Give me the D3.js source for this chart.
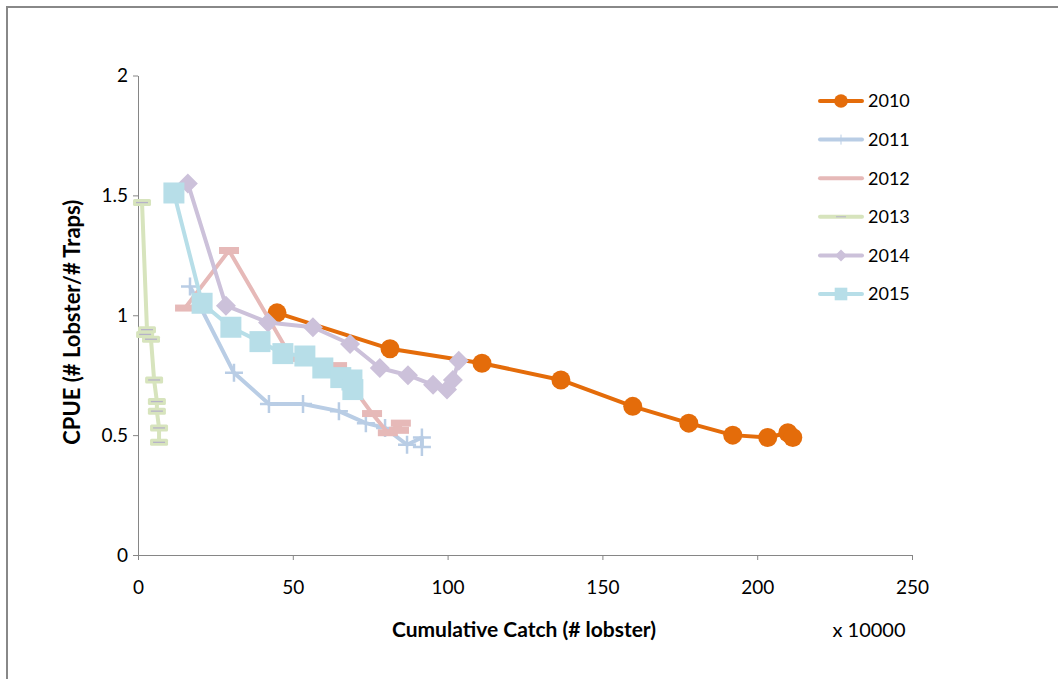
<!DOCTYPE html>
<html>
<head>
<meta charset="utf-8">
<script src="https://cdn.jsdelivr.net/npm/d3@7"></script>
<style>
  html, body { margin: 0; padding: 0; background: #fff; }
  svg { display: block; }
  text { font-family: Lato, "Open Sans", sans-serif; fill: #000; }
</style>
</head>
<body>
<svg id="chart" width="1058" height="679"></svg>
<script>
// Cumulative catch (x 10000 lobster) and CPUE by season
const years = ["2010", "2011", "2012", "2013", "2014", "2015"];

const catch2010 = [44.9, 81.4, 111.1, 136.6, 159.8, 177.9, 192.1, 203.4, 209.9, 211.5];
const cpue2010  = [1.01, 0.86, 0.80, 0.73, 0.62, 0.55, 0.50, 0.49, 0.51, 0.49];

const catch2011 = [16.8, 31.0, 42.3, 53.3, 64.9, 73.6, 79.8, 86.9, 91.7, 91.7];
const cpue2011  = [1.12, 0.76, 0.63, 0.63, 0.60, 0.55, 0.53, 0.46, 0.49, 0.45];

const catch2012 = [15.2, 29.4, 49.7, 64.3, 75.6, 80.7, 84.9, 84.3];
const cpue2012  = [1.03, 1.27, 0.82, 0.79, 0.59, 0.51, 0.55, 0.52];

const catch2013 = [1.3, 2.9, 2.3, 4.2, 5.2, 6.1, 6.1, 6.8, 6.8];
const cpue2013  = [1.47, 0.94, 0.92, 0.90, 0.73, 0.64, 0.60, 0.53, 0.47];

const catch2014 = [16.1, 28.4, 42.0, 56.5, 68.5, 78.1, 87.2, 95.3, 99.8, 101.7, 103.6];
const cpue2014  = [1.55, 1.04, 0.97, 0.95, 0.88, 0.78, 0.75, 0.71, 0.69, 0.73, 0.81];

const catch2015 = [11.6, 20.7, 30.0, 39.4, 46.8, 53.9, 59.7, 65.5, 69.1, 69.4];
const cpue2015  = [1.51, 1.05, 0.95, 0.89, 0.84, 0.83, 0.78, 0.74, 0.73, 0.69];

const xTicks = [0, 50, 100, 150, 200, 250];
const yTicks = [0, 0.5, 1, 1.5, 2];

const seriesX = [catch2010, catch2011, catch2012, catch2013, catch2014, catch2015];
const seriesY = [cpue2010, cpue2011, cpue2012, cpue2013, cpue2014, cpue2015];

const colors  = ["#E46C0A", "#B9CDE5", "#E6B9B8", "#D7E4BD", "#CCC1DA", "#B7DEE8"];
const markers = ["circle", "plus", "dash", "dash2", "diamond", "square"];

const series = years.map((name, i) => ({
  name,
  color: colors[i],
  marker: markers[i],
  points: seriesX[i].map((x, j) => ({ x, y: seriesY[i][j] }))
}));

const svg = d3.select("#chart");
const fontFamily = "Lato, 'Open Sans', sans-serif";

// outer frame
svg.append("path")
  .attr("d", "M7,679 L7,7 L1058,7")
  .attr("fill", "none")
  .attr("stroke", "#888")
  .attr("stroke-width", 2);

const x = d3.scaleLinear().domain([0, 250]).range([138, 912]);
const y = d3.scaleLinear().domain([0, 2]).range([555, 75.5]);

const axisColor = "#868686";

// y axis
const gy = svg.append("g")
  .attr("transform", `translate(${x(0)},0)`)
  .call(d3.axisLeft(y).tickValues(yTicks).tickSize(5).tickSizeOuter(0).tickPadding(5)
    .tickFormat(d3.format("~g")));
gy.select(".domain").attr("stroke", axisColor);
gy.selectAll(".tick line").attr("stroke", axisColor);
gy.selectAll(".tick text").attr("font-size", 19).attr("fill", "#000")
  .style("font-family", fontFamily);

// x axis
const gx = svg.append("g")
  .attr("transform", `translate(0,${y(0)})`)
  .call(d3.axisBottom(x).tickValues(xTicks).tickSize(5).tickSizeOuter(0).tickPadding(21));
gx.select(".domain").attr("stroke", axisColor);
gx.selectAll(".tick line").attr("stroke", axisColor);
gx.selectAll(".tick text").attr("font-size", 19).attr("fill", "#000")
  .style("font-family", fontFamily);

// axis titles
svg.append("text")
  .attr("x", 524).attr("y", 637)
  .attr("text-anchor", "middle")
  .attr("font-size", 21).attr("font-weight", "bold")
  .text("Cumulative Catch (# lobster)");

svg.append("text")
  .attr("x", 869).attr("y", 637)
  .attr("text-anchor", "middle")
  .attr("font-size", 20)
  .text("x 10000");

svg.append("text")
  .attr("transform", `translate(80,${(y(0) + y(2)) / 2 + 7}) rotate(-90)`)
  .attr("text-anchor", "middle")
  .attr("font-size", 22).attr("font-weight", "bold")
  .text("CPUE (# Lobster/# Traps)");

// marker drawing
function drawMarker(g, type, color, scale) {
  const s = scale || 1;
  if (type === "circle") {
    g.append("circle").attr("r", 9.5 * s).attr("fill", color);
  } else if (type === "square") {
    const h = 10.5 * s;
    g.append("rect").attr("x", -h).attr("y", -h).attr("width", 2 * h).attr("height", 2 * h)
      .attr("fill", color);
  } else if (type === "diamond") {
    const h = 10 * s;
    g.append("path").attr("d", `M0,${-h}L${h},0L0,${h}L${-h},0Z`).attr("fill", color);
  } else if (type === "plus") {
    const h = 9 * s;
    g.append("path").attr("d", `M${-h},0H${h}M0,${-h}V${h}`)
      .attr("stroke", color).attr("stroke-width", 2.5).attr("fill", "none");
  } else if (type === "dash") {
    const w = 10 * s, t = 3.5 * s;
    g.append("rect").attr("x", -w).attr("y", -t).attr("width", 2 * w).attr("height", 2 * t)
      .attr("fill", color);
  } else if (type === "dash2") {
    const w = 9 * s, t = 3.5 * s;
    g.append("rect").attr("x", -w).attr("y", -t).attr("width", 2 * w).attr("height", 2 * t)
      .attr("rx", 1.5).attr("fill", color);
    g.append("line").attr("x1", -w + 3).attr("x2", w - 3)
      .attr("stroke", "#B6B2C8").attr("stroke-width", 1.3);
  }
}

const line = d3.line().x(d => x(d.x)).y(d => y(d.y));

series.forEach(s => {
  const g = svg.append("g").attr("class", "series");
  g.append("path")
    .attr("d", line(s.points))
    .attr("fill", "none")
    .attr("stroke", s.color)
    .attr("stroke-width", 4)
    .attr("stroke-linejoin", "round");
  g.selectAll("g.pt").data(s.points).enter().append("g")
    .attr("class", "pt")
    .attr("transform", d => `translate(${x(d.x)},${y(d.y)})`)
    .each(function () { drawMarker(d3.select(this), s.marker, s.color); });
});

// legend
const legend = svg.append("g");
series.forEach((s, i) => {
  const ly = 101 + i * 38.6;
  const g = legend.append("g").attr("transform", `translate(0,${ly})`);
  g.append("line").attr("x1", 820).attr("x2", 862)
    .attr("stroke", s.color).attr("stroke-width", 4).attr("stroke-linecap", "round");
  const m = g.append("g").attr("transform", "translate(841,0)");
  if (s.marker === "circle") drawMarker(m, "circle", s.color, 0.72);
  else if (s.marker === "plus") {
    m.append("line").attr("y1", -5).attr("y2", 5).attr("stroke", s.color).attr("stroke-width", 1);
  } else if (s.marker === "dash2") {
    m.append("line").attr("x1", -5).attr("x2", 5).attr("stroke", "#B6B2C8").attr("stroke-width", 1);
  } else if (s.marker === "diamond") drawMarker(m, "diamond", s.color, 0.6);
  else if (s.marker === "square") drawMarker(m, "square", s.color, 0.6);
  g.append("text").attr("x", 868).attr("y", 0).attr("dy", "0.35em")
    .attr("font-size", 18).text(s.name);
});
</script>
</body>
</html>
